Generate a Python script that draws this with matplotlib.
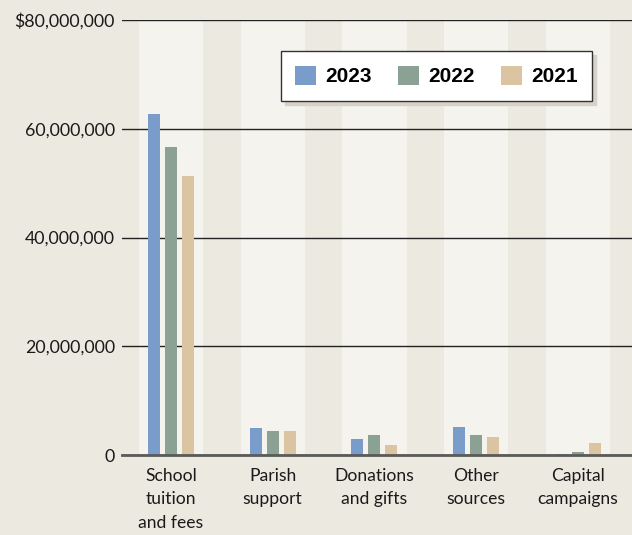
import matplotlib.pyplot as plt
import numpy as np
from matplotlib.ticker import FuncFormatter

categories = ["School\ntuition\nand fees", "Parish\nsupport", "Donations\nand gifts",
              "Other\nsources", "Capital\ncampaigns"]
years = ["2023", "2022", "2021"]
vals_2023 = [62.7e6, 4.9e6, 2.9e6, 5.1e6, 0.1e6]
vals_2022 = [56.6e6, 4.5e6, 3.6e6, 3.6e6, 0.5e6]
vals_2021 = [51.3e6, 4.5e6, 1.8e6, 3.4e6, 2.2e6]
colors = ["#7A9CCB", "#8BA194", "#DBC4A2"]

bg = "#ECE9E1"
band = "#F5F3EE"

fig = plt.figure(figsize=(6.32, 5.35), dpi=100, facecolor=bg)
ax = fig.add_axes([0.193, 0.1495, 0.807, 0.8131])
ax.set_facecolor(bg)

x = np.arange(len(categories))
for xi in x:
    ax.axvspan(xi - 0.315, xi + 0.315, color=band, zorder=0, lw=0)

ax.set_ylim(0, 80e6)
ax.set_yticks([0, 20e6, 40e6, 60e6, 80e6])
ax.yaxis.grid(True, color="#222222", lw=1, zorder=1)
ax.set_axisbelow(True)

w = 0.118
off = 0.167
series = [vals_2023, vals_2022, vals_2021]
for i, (vals, yr, c) in enumerate(zip(series, years, colors)):
    ax.bar(x + (i - 1) * off, vals, width=w, color=c, label=yr, zorder=3)

ax.axhline(0, color="#5a5a5a", lw=2, zorder=4, clip_on=False)

ax.set_xlim(-0.48, 4.53)
ax.set_xticks(x)
ax.set_xticklabels(categories, fontfamily="Lato", fontsize=12.6, linespacing=1.6,
                   color="#1a1a1a")


def fmt(v, pos):
    if v == 80e6:
        return "$80,000,000"
    if v == 0:
        return "0"
    return f"{int(v):,}"


ax.yaxis.set_major_formatter(FuncFormatter(fmt))
for lab in ax.get_yticklabels():
    lab.set_fontfamily("Lato")
    lab.set_fontsize(12.8)
    lab.set_color("#1a1a1a")

ax.tick_params(axis="both", length=0)
ax.tick_params(axis="y", pad=5)
ax.tick_params(axis="x", pad=9)
for s in ax.spines.values():
    s.set_visible(False)

leg = ax.legend(loc="upper left", bbox_to_anchor=(0.311, 0.928), ncol=3,
                frameon=True, fancybox=False,
                shadow={"ox": 3, "oy": -3, "color": "#d6d2c9", "alpha": 1},
                edgecolor="#333333",
                framealpha=1, handlelength=1.0, handleheight=1.0,
                handletextpad=0.45, columnspacing=1.25, borderpad=0.7,
                borderaxespad=0,
                prop={"family": "Liberation Sans", "weight": "bold", "size": 15})
leg.get_frame().set_linewidth(1)
leg.set_zorder(10)

fig.savefig("out.png", dpi=100, facecolor=bg)
